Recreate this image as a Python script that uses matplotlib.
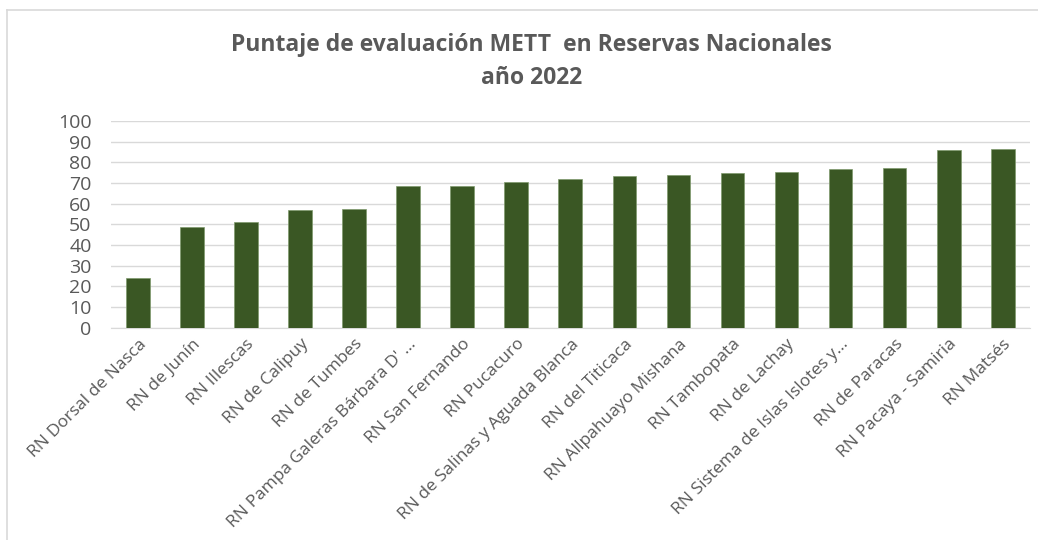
import numpy as np
import matplotlib
matplotlib.use("Agg")
import matplotlib.pyplot as plt
from matplotlib.lines import Line2D

plt.rcParams['font.family'] = ['Open Sans', 'DejaVu Sans']

reservas = [
    "RN Dorsal de Nasca", "RN de Junín", "RN Illescas", "RN de Calipuy",
    "RN de Tumbes", "RN Pampa Galeras Bárbara D' ...", "RN San Fernando",
    "RN Pucacuro", "RN de Salinas y Aguada Blanca", "RN del Titicaca",
    "RN Allpahuayo Mishana", "RN Tambopata", "RN de Lachay",
    "RN Sistema de Islas Islotes y...", "RN de Paracas",
    "RN Pacaya - Samiria", "RN Matsés",
]
puntaje = [24, 48.7, 51, 57.1, 57.6, 68.7, 68.7, 70.6, 71.8, 73.5,
           74.0, 75.0, 75.4, 76.7, 77.2, 86.2, 86.5]
y_ticks = [0, 10, 20, 30, 40, 50, 60, 70, 80, 90, 100]

BAR_COLOR = "#3a5724"
TXT_COLOR = "#595959"
GRID_COLOR = "#d9d9d9"

fig = plt.figure(figsize=(10.38, 5.4), dpi=100)
ax = fig.add_axes([0.107, 0.393, 0.885, 0.383])

x = np.arange(len(reservas))
ax.bar(x, puntaje, width=0.44, color=BAR_COLOR, edgecolor="#7f9a6c", linewidth=0.5, zorder=3)

ax.set_xlim(-0.5, len(reservas) - 0.5)
ax.set_ylim(0, 100)
ax.set_yticks(y_ticks)
ax.yaxis.grid(True, color=GRID_COLOR, linewidth=1, zorder=0)
ax.set_axisbelow(True)
for s in ["top", "right", "left"]:
    ax.spines[s].set_visible(False)
ax.spines["bottom"].set_color(GRID_COLOR)

ax.tick_params(axis="y", length=0, labelsize=14, labelcolor=TXT_COLOR, pad=14)
ax.tick_params(axis="x", length=0, labelsize=12.5, labelcolor=TXT_COLOR, pad=6)
ax.set_xticks(x)
ax.set_xticklabels(reservas, rotation=45, ha="right", rotation_mode="anchor")

# chart area border (top and left edges visible)
fig.add_artist(Line2D([7 / 1038, 1], [1 - 10 / 540, 1 - 10 / 540], color=GRID_COLOR, lw=1.2))
fig.add_artist(Line2D([7 / 1038, 7 / 1038], [0, 1 - 10 / 540], color=GRID_COLOR, lw=1.2))

fig.text(0.512, 1 - 45 / 540, "Puntaje de evaluación METT  en Reservas Nacionales",
         ha="center", va="center", fontsize=16.5, fontweight="bold", color=TXT_COLOR)
fig.text(0.512, 1 - 78 / 540, "año 2022",
         ha="center", va="center", fontsize=16.5, fontweight="bold", color=TXT_COLOR)

fig.savefig("out.png", dpi=100)
